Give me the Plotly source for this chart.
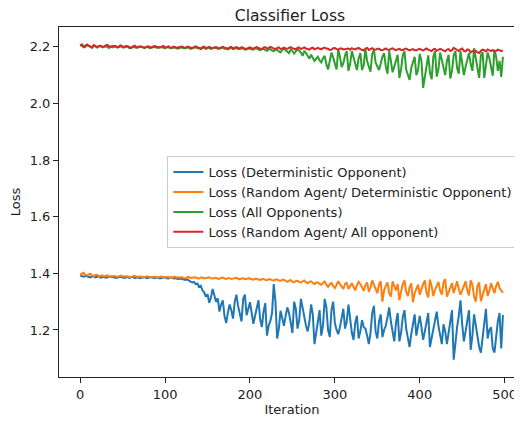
import plotly.graph_objects as go

iterations = list(range(0, 500, 2))

loss_deterministic = [
    1.392, 1.389, 1.388, 1.391, 1.390, 1.387, 1.386, 1.389, 1.389, 1.386,
    1.387, 1.390, 1.385, 1.387, 1.388, 1.385, 1.386, 1.388, 1.389, 1.386,
    1.387, 1.384, 1.385, 1.388, 1.388, 1.385, 1.384, 1.386, 1.387, 1.384,
    1.386, 1.388, 1.383, 1.385, 1.386, 1.383, 1.385, 1.387, 1.387, 1.384,
    1.384, 1.387, 1.386, 1.383, 1.383, 1.386, 1.385, 1.382, 1.384, 1.386,
    1.386, 1.383, 1.382, 1.385, 1.385, 1.382, 1.383, 1.381, 1.380, 1.382,
    1.381, 1.378, 1.377, 1.379, 1.374, 1.371, 1.368, 1.370, 1.362, 1.364,
    1.352, 1.356, 1.340, 1.333, 1.318, 1.326, 1.296, 1.315, 1.345, 1.320,
    1.300, 1.312, 1.265, 1.290, 1.305, 1.248, 1.225, 1.262, 1.290, 1.270,
    1.240, 1.298, 1.325, 1.285, 1.262, 1.230, 1.310, 1.325, 1.252, 1.275,
    1.298, 1.260, 1.222, 1.250, 1.285, 1.305, 1.238, 1.210, 1.265, 1.295,
    1.180, 1.215, 1.232, 1.260, 1.362, 1.300, 1.170, 1.205, 1.268, 1.245,
    1.215, 1.250, 1.280, 1.260, 1.225, 1.190, 1.300, 1.275, 1.205, 1.235,
    1.310, 1.280, 1.240, 1.215, 1.195, 1.230, 1.290, 1.255, 1.150, 1.200,
    1.230, 1.270, 1.180, 1.215, 1.310, 1.280, 1.200, 1.175, 1.270, 1.300,
    1.225, 1.200, 1.185, 1.210, 1.245, 1.275, 1.205, 1.230, 1.290, 1.240,
    1.190, 1.165, 1.225, 1.250, 1.170, 1.195, 1.235, 1.210, 1.205, 1.180,
    1.150, 1.190, 1.260, 1.285, 1.195, 1.170, 1.230, 1.255, 1.175, 1.200,
    1.215, 1.245, 1.280, 1.230, 1.190, 1.160, 1.225, 1.260, 1.160, 1.190,
    1.245, 1.270, 1.205, 1.175, 1.140, 1.185, 1.220, 1.255, 1.180, 1.215,
    1.250, 1.210, 1.165, 1.195, 1.230, 1.260, 1.140, 1.170, 1.200, 1.240,
    1.265, 1.215, 1.175, 1.150, 1.220, 1.195, 1.150, 1.190, 1.240, 1.270,
    1.095, 1.160, 1.210, 1.250, 1.305, 1.220, 1.160, 1.195, 1.230, 1.270,
    1.130, 1.180, 1.255, 1.215, 1.185, 1.140, 1.120, 1.175, 1.240, 1.275,
    1.170, 1.200, 1.210, 1.135, 1.120, 1.185, 1.230, 1.260, 1.135, 1.253,
]

loss_random_deterministic = [
    1.396, 1.400, 1.402, 1.395, 1.392, 1.397, 1.398, 1.393, 1.390, 1.394,
    1.394, 1.390, 1.391, 1.393, 1.389, 1.392, 1.393, 1.389, 1.390, 1.392,
    1.391, 1.389, 1.388, 1.390, 1.392, 1.389, 1.389, 1.391, 1.390, 1.387,
    1.387, 1.390, 1.391, 1.388, 1.388, 1.390, 1.389, 1.386, 1.386, 1.389,
    1.389, 1.386, 1.386, 1.388, 1.388, 1.385, 1.385, 1.388, 1.389, 1.386,
    1.386, 1.388, 1.387, 1.384, 1.384, 1.387, 1.388, 1.385, 1.385, 1.387,
    1.386, 1.384, 1.383, 1.386, 1.387, 1.384, 1.384, 1.386, 1.386, 1.383,
    1.382, 1.385, 1.385, 1.382, 1.383, 1.385, 1.386, 1.383, 1.382, 1.384,
    1.384, 1.381, 1.381, 1.384, 1.385, 1.382, 1.380, 1.383, 1.383, 1.380,
    1.381, 1.384, 1.384, 1.381, 1.379, 1.382, 1.383, 1.380, 1.380, 1.383,
    1.382, 1.379, 1.378, 1.381, 1.381, 1.378, 1.377, 1.380, 1.380, 1.377,
    1.376, 1.379, 1.379, 1.376, 1.375, 1.378, 1.378, 1.375, 1.374, 1.377,
    1.377, 1.373, 1.370, 1.374, 1.376, 1.371, 1.368, 1.373, 1.374, 1.369,
    1.367, 1.372, 1.375, 1.369, 1.365, 1.370, 1.372, 1.366, 1.362, 1.368,
    1.368, 1.363, 1.360, 1.366, 1.371, 1.360, 1.352, 1.362, 1.366, 1.355,
    1.348, 1.360, 1.372, 1.362, 1.355, 1.345, 1.362, 1.368, 1.345, 1.355,
    1.365, 1.352, 1.340, 1.358, 1.370, 1.362, 1.350, 1.338, 1.358, 1.368,
    1.335, 1.350, 1.375, 1.360, 1.345, 1.330, 1.360, 1.372, 1.300, 1.340,
    1.355, 1.368, 1.330, 1.318, 1.372, 1.355, 1.340, 1.362, 1.305, 1.335,
    1.362, 1.375, 1.335, 1.320, 1.350, 1.365, 1.298, 1.330, 1.345, 1.360,
    1.325, 1.345, 1.362, 1.375, 1.330, 1.315, 1.378, 1.355, 1.320, 1.342,
    1.355, 1.370, 1.340, 1.325, 1.368, 1.380, 1.318, 1.335, 1.350, 1.365,
    1.330, 1.352, 1.372, 1.345, 1.325, 1.340, 1.360, 1.372, 1.340, 1.322,
    1.375, 1.360, 1.318, 1.300, 1.355, 1.368, 1.302, 1.325, 1.345, 1.362,
    1.320, 1.338, 1.365, 1.350, 1.330, 1.355, 1.370, 1.348, 1.340, 1.332,
]

loss_all = [
    2.202, 2.206, 2.198, 2.200, 2.206, 2.203, 2.200, 2.196, 2.204, 2.201,
    2.197, 2.201, 2.203, 2.198, 2.199, 2.202, 2.199, 2.196, 2.201, 2.198,
    2.200, 2.203, 2.197, 2.199, 2.202, 2.198, 2.198, 2.201, 2.200, 2.196,
    2.195, 2.199, 2.199, 2.196, 2.197, 2.200, 2.201, 2.197, 2.196, 2.199,
    2.199, 2.195, 2.196, 2.199, 2.200, 2.197, 2.197, 2.200, 2.198, 2.195,
    2.195, 2.198, 2.199, 2.195, 2.196, 2.199, 2.198, 2.194, 2.194, 2.197,
    2.198, 2.195, 2.195, 2.198, 2.197, 2.193, 2.194, 2.197, 2.198, 2.195,
    2.195, 2.192, 2.196, 2.198, 2.193, 2.195, 2.197, 2.192, 2.194, 2.197,
    2.196, 2.193, 2.193, 2.196, 2.197, 2.193, 2.194, 2.191, 2.195, 2.197,
    2.192, 2.195, 2.196, 2.192, 2.193, 2.196, 2.195, 2.190, 2.191, 2.194,
    2.194, 2.191, 2.190, 2.194, 2.195, 2.190, 2.188, 2.192, 2.193, 2.188,
    2.186, 2.191, 2.192, 2.187, 2.185, 2.190, 2.190, 2.184, 2.180, 2.188,
    2.195, 2.188, 2.182, 2.178, 2.190, 2.185, 2.176, 2.183, 2.192, 2.186,
    2.180, 2.168, 2.186, 2.178, 2.165, 2.158, 2.172, 2.162, 2.150, 2.158,
    2.165, 2.152, 2.145, 2.160, 2.168, 2.138, 2.120, 2.150, 2.180, 2.162,
    2.135, 2.120, 2.190, 2.165, 2.128, 2.142, 2.170, 2.185, 2.115, 2.140,
    2.185, 2.160, 2.140, 2.118, 2.160, 2.178, 2.118, 2.135, 2.192, 2.150,
    2.130, 2.112, 2.175, 2.190, 2.145, 2.128, 2.118, 2.140, 2.165, 2.178,
    2.130, 2.105, 2.185, 2.150, 2.110, 2.130, 2.155, 2.172, 2.090, 2.120,
    2.170, 2.185, 2.120, 2.100, 2.083, 2.125, 2.150, 2.165, 2.100, 2.118,
    2.175, 2.150, 2.055, 2.100, 2.140, 2.170, 2.110, 2.085, 2.165, 2.185,
    2.095, 2.120, 2.180, 2.150, 2.120, 2.100, 2.150, 2.172, 2.088, 2.115,
    2.170, 2.185, 2.125, 2.105, 2.185, 2.150, 2.100, 2.130, 2.160, 2.178,
    2.140, 2.115, 2.195, 2.160, 2.110, 2.090, 2.170, 2.182, 2.090, 2.135,
    2.180, 2.160, 2.130, 2.098, 2.190, 2.165, 2.115, 2.150, 2.094, 2.165,
]

loss_random_all = [
    2.205, 2.209, 2.200, 2.203, 2.208, 2.204, 2.202, 2.199, 2.206, 2.203,
    2.199, 2.203, 2.204, 2.200, 2.201, 2.205, 2.207, 2.202, 2.200, 2.203,
    2.203, 2.200, 2.199, 2.202, 2.205, 2.201, 2.200, 2.203, 2.202, 2.198,
    2.198, 2.201, 2.204, 2.200, 2.199, 2.202, 2.201, 2.198, 2.197, 2.200,
    2.202, 2.199, 2.198, 2.201, 2.203, 2.200, 2.199, 2.197, 2.201, 2.203,
    2.197, 2.200, 2.202, 2.198, 2.197, 2.201, 2.198, 2.196, 2.199, 2.201,
    2.201, 2.198, 2.197, 2.200, 2.200, 2.196, 2.196, 2.199, 2.202, 2.199,
    2.197, 2.194, 2.199, 2.201, 2.195, 2.197, 2.200, 2.197, 2.196, 2.198,
    2.199, 2.196, 2.195, 2.198, 2.200, 2.197, 2.196, 2.193, 2.198, 2.200,
    2.194, 2.197, 2.199, 2.196, 2.195, 2.198, 2.197, 2.193, 2.193, 2.196,
    2.198, 2.195, 2.194, 2.197, 2.199, 2.196, 2.195, 2.192, 2.197, 2.199,
    2.193, 2.196, 2.200, 2.197, 2.194, 2.191, 2.196, 2.198, 2.192, 2.195,
    2.197, 2.194, 2.193, 2.196, 2.199, 2.195, 2.194, 2.191, 2.196, 2.198,
    2.192, 2.195, 2.198, 2.194, 2.193, 2.190, 2.195, 2.197, 2.191, 2.194,
    2.196, 2.193, 2.192, 2.195, 2.197, 2.194, 2.193, 2.189, 2.190, 2.195,
    2.196, 2.192, 2.190, 2.194, 2.194, 2.191, 2.192, 2.195, 2.194, 2.190,
    2.195, 2.192, 2.191, 2.194, 2.196, 2.192, 2.190, 2.187, 2.194, 2.196,
    2.189, 2.192, 2.195, 2.191, 2.190, 2.193, 2.193, 2.189, 2.188, 2.191,
    2.194, 2.190, 2.189, 2.193, 2.195, 2.191, 2.188, 2.191, 2.193, 2.189,
    2.189, 2.192, 2.194, 2.190, 2.187, 2.190, 2.192, 2.188, 2.188, 2.191,
    2.193, 2.189, 2.187, 2.191, 2.194, 2.190, 2.188, 2.185, 2.191, 2.193,
    2.186, 2.189, 2.193, 2.190, 2.187, 2.184, 2.190, 2.192, 2.185, 2.188,
    2.196, 2.192, 2.188, 2.185, 2.191, 2.194, 2.186, 2.184, 2.191, 2.189,
    2.180, 2.185, 2.182, 2.186, 2.180, 2.178, 2.186, 2.190, 2.188, 2.184,
    2.191, 2.188, 2.185, 2.189, 2.183, 2.186, 2.190, 2.188, 2.185, 2.186,
]

series_names = [
    "Loss (Deterministic Opponent)",
    "Loss (Random Agent/ Deterministic Opponent)",
    "Loss (All Opponents)",
    "Loss (Random Agent/ All opponent)",
]
series_colors = ["#1f77b4", "#ff7f0e", "#2ca02c", "#d62728"]
series_values = [loss_deterministic, loss_random_deterministic, loss_all, loss_random_all]

x_ticks = [0, 100, 200, 300, 400, 500]
y_ticks = [1.2, 1.4, 1.6, 1.8, 2.0, 2.2]

fig = go.Figure()
for name, color, vals in zip(series_names, series_colors, series_values):
    fig.add_trace(go.Scatter(x=iterations, y=vals, mode="lines", name=name,
                             line=dict(color=color, width=2)))

font_family = "DejaVu Sans"
text_color = "#222222"
fig.update_layout(
    width=522, height=421,
    margin=dict(l=48, r=5, t=19, b=52),
    paper_bgcolor="white", plot_bgcolor="white",
    font=dict(family=font_family, size=13, color=text_color),
    title=dict(text="Classifier Loss", x=(290 - 8) / 522, xref="container", xanchor="center",
               y=1 - 7.5 / 421, yref="container", yanchor="middle",
               font=dict(size=15.6, color=text_color)),
    legend=dict(x=0.2326, y=0.631, xanchor="left", yanchor="top",
                bgcolor="rgba(255,255,255,0.8)", bordercolor="#cccccc", borderwidth=1,
                font=dict(size=13, color=text_color), itemwidth=30),
    showlegend=True,
)
fig.update_xaxes(range=[-25.0, 524.0], tickvals=x_ticks, ticks="outside", ticklen=5,
                 tickcolor="#222222", showline=True, linecolor="#222222", linewidth=1,
                 mirror=True, showgrid=False, zeroline=False,
                 title=dict(text="Iteration", standoff=4, font=dict(size=13)))
fig.update_yaxes(range=[1.034, 2.270], tickvals=y_ticks, tickformat=".1f", ticks="outside",
                 ticklen=5, tickcolor="#222222", showline=True, linecolor="#222222",
                 linewidth=1, showgrid=False, zeroline=False,
                 title=dict(text="Loss", standoff=8, font=dict(size=13)))

fig.write_html("out.html")
